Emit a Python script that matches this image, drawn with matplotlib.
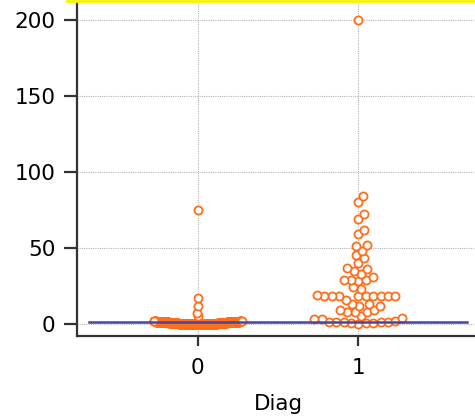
import numpy as np
import matplotlib
matplotlib.use("Agg")
import matplotlib.pyplot as plt
from matplotlib.lines import Line2D

plt.rcParams['font.family'] = ['DejaVu Sans']

# data
groups = [0, 1]
group_labels = ['0', '1']
diag0 = ([0] * 120 + [0.5] * 60 + [1] * 50 + [1.5] * 30 + [2] * 15
         + [5, 7, 12, 17, 75])
diag1 = [200, 84, 80, 72, 69, 62, 59, 52, 51, 48, 45, 43, 40, 37, 36, 35, 33,
         31, 29, 29, 29, 28, 24, 23, 19, 18, 18, 18, 18, 18, 18, 18, 18, 18,
         16, 13, 13, 12, 12, 9, 9, 8, 8, 8, 5, 4, 3, 3, 2, 1.5, 1.5, 1, 1, 1,
         0.5, 0.5, 0.5, 0]
ref_level = 1.0
yticks = [0, 50, 100, 150, 200]

orange = '#FF6E1A'

fig = plt.figure(figsize=(4.75, 4.17), dpi=100)
ax = fig.add_axes([77 / 475, 81 / 417, 402 / 475, 333 / 417])
ax.set_xlim(-0.75, 1.75)
ax.set_ylim(-8, 211)

# pixel scales used by the swarm layout
px_x = 402 / 2.5
px_y = 333 / 219.0
d = 8.0
half_w = 44.0


def swarm(vals):
    vals = np.asarray(vals, dtype=float)
    order = np.argsort(vals, kind='stable')
    ys = vals[order] * px_y
    xs = np.zeros(len(ys))
    for i in range(1, len(ys)):
        y = ys[i]
        near = np.abs(ys[:i] - y) < d
        ny, nx = ys[:i][near], xs[:i][near]
        if len(ny) == 0:
            continue
        dx = np.sqrt(d ** 2 - (ny - y) ** 2)
        cands = np.concatenate([[0.0], nx + dx, nx - dx])
        ok = ((cands[:, None] - nx[None, :]) ** 2
              + (y - ny[None, :]) ** 2 >= d ** 2 - 1e-6).all(axis=1)
        c = cands[ok]
        xs[i] = c[np.argmin(np.abs(c))]
    m = np.abs(xs).max()
    if m > half_w:
        xs = xs * half_w / m
    return vals[order], xs / px_x


for g, vals in zip(groups, [diag0, diag1]):
    v, off = swarm(vals)
    ax.scatter(g + off, v, s=34, facecolor='white', edgecolor=orange,
               linewidth=1.3, zorder=3)

ax.axhline(ref_level, xmin=0.03, xmax=0.97, color='#4646a2', lw=1.8, zorder=4)

ax.set_xticks(groups)
ax.set_xticklabels(group_labels)
ax.set_yticks(yticks)
ax.grid(True, color='#b4b4b4', linestyle=(0, (1, 1)), linewidth=0.8)
ax.set_axisbelow(True)

for s in ['top', 'right']:
    ax.spines[s].set_visible(False)
for s in ['left', 'bottom']:
    ax.spines[s].set_color('#333333')
    ax.spines[s].set_linewidth(1.6)
ax.tick_params(axis='y', length=9.5, width=1.6, color='#333333', pad=6,
               labelsize=15.5)
ax.tick_params(axis='x', length=7, width=1.6, color='#333333', pad=9,
               labelsize=15.5)
ax.set_xlabel('Diag', fontsize=15.5, labelpad=11)

fig.add_artist(Line2D([67 / 475, 1], [1 - 1 / 417, 1 - 1 / 417],
                      color='#f5f500', lw=2))

fig.savefig('out.png', dpi=100)
